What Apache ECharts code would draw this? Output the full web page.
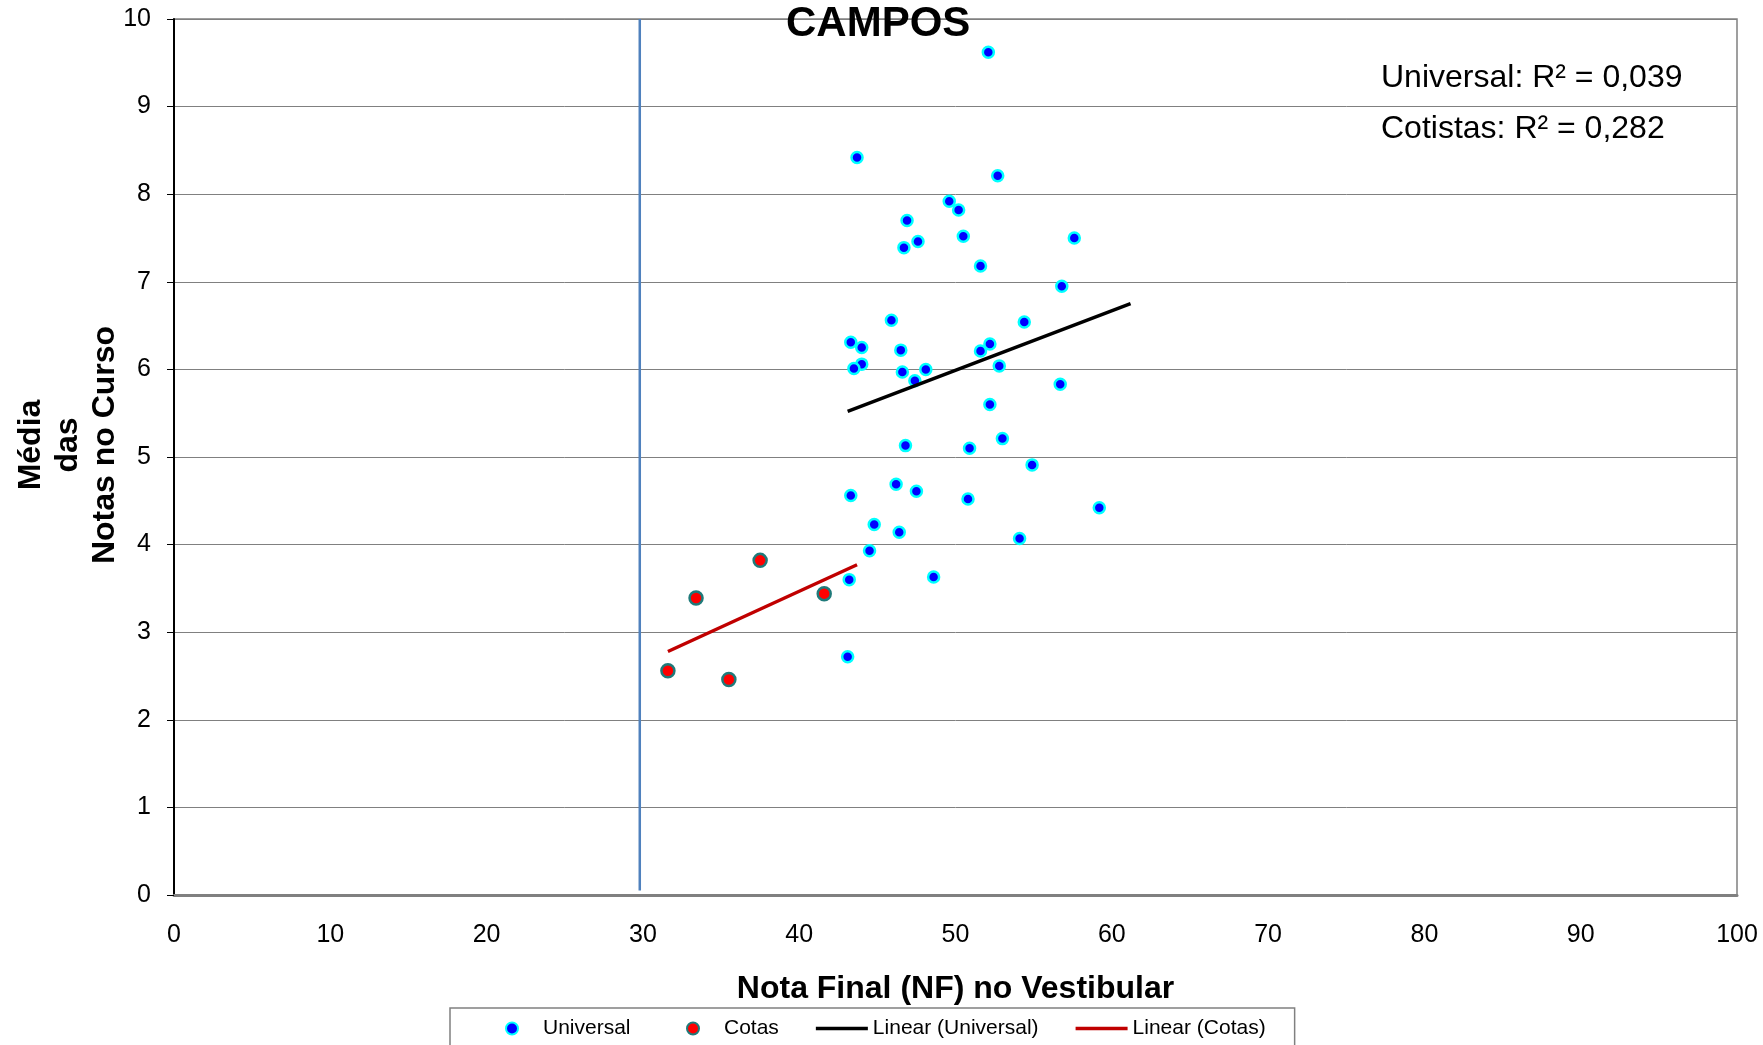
<!DOCTYPE html>
<html>
<head>
<meta charset="utf-8">
<script src="https://cdn.jsdelivr.net/npm/echarts@6/dist/echarts.min.js"></script>
<style>
html,body{margin:0;padding:0;background:#fff;}
#chart{width:1763px;height:1045px;}
</style>
</head>
<body>
<div id="chart"></div>
<script>
// ---- Data ----
const chartTitle = 'CAMPOS';
const xAxisTitle = 'Nota Final (NF) no Vestibular';
const yAxisTitle = 'Média\ndas\nNotas no Curso';
const seriesNames = ['Universal', 'Cotas', 'Linear (Universal)', 'Linear (Cotas)'];
const r2Labels = ['Universal: R² = 0,039', 'Cotistas: R² = 0,282'];

const universalX = [52.1, 43.7, 52.7, 49.6, 50.2, 46.9, 47.6, 46.7, 50.5, 57.6, 51.6, 56.8,
  45.9, 54.4, 43.3, 44.0, 46.5, 52.2, 51.6, 44.0, 43.5, 46.6, 48.1, 47.4, 52.8, 56.7, 52.2,
  46.8, 50.9, 53.0, 54.9, 46.2, 43.3, 47.5, 50.8, 59.2, 44.8, 46.4, 54.1, 44.5, 43.2, 48.6, 43.1];
const universalY = [9.62, 8.42, 8.21, 7.92, 7.82, 7.70, 7.46, 7.39, 7.52, 7.50, 7.18, 6.95,
  6.56, 6.54, 6.31, 6.25, 6.22, 6.29, 6.21, 6.06, 6.01, 5.97, 6.00, 5.87, 6.04, 5.83, 5.60,
  5.13, 5.10, 5.21, 4.91, 4.69, 4.56, 4.61, 4.52, 4.42, 4.23, 4.14, 4.07, 3.93, 3.60, 3.63, 2.72];

const cotasX = [31.6, 33.4, 35.5, 37.5, 41.6];
const cotasY = [2.56, 3.39, 2.46, 3.82, 3.44];

const universalTrendX = [43.1, 61.2];
const universalTrendY = [5.52, 6.75];
const cotasTrendX = [31.6, 43.7];
const cotasTrendY = [2.78, 3.77];

const refLineX = [29.8, 29.8];
const refLineY = [0.05, 10];

const xTicks = {min: 0, max: 100, interval: 10};
const yTicks = {min: 0, max: 10, interval: 1};

// ---- Build ----
const zip = (a, b) => a.map((v, i) => [v, b[i]]);
const FONT = "'Liberation Sans', Arial, sans-serif";
// thin horizontal bar filling the legend icon width (tiny corner dots fix the 52x12 bounding box)
const LINE_ICON = 'path://M0,0L0.01,0L0.01,0.01L0,0.01Z M0,4.25L52,4.25L52,7.75L0,7.75Z M51.99,11.99L52,11.99L52,12L51.99,12Z';

const legendCommon = {
  top: 1008, itemWidth: 52, itemHeight: 12, itemGap: 37,
  textStyle: {fontFamily: FONT, fontSize: 21, color: '#000'},
  selectedMode: false
};

const chart = echarts.init(document.getElementById('chart'), null, {renderer: 'canvas'});
chart.setOption({
  backgroundColor: '#ffffff',
  animation: false,
  textStyle: {fontFamily: FONT, color: '#000'},
  title: {
    text: chartTitle, left: 786, top: 3, padding: 0,
    textStyle: {fontFamily: FONT, fontSize: 42, fontWeight: 'bold', color: '#000'}
  },
  grid: {
    left: 174, right: 26, top: 19, bottom: 150,
    show: true, borderColor: '#808080', borderWidth: 1.5,
    outerBoundsMode: 'none', containLabel: false
  },
  legend: [
    Object.assign({}, legendCommon, {
      data: [
        {name: seriesNames[1], icon: 'circle'},
        {name: seriesNames[2], icon: LINE_ICON},
        {name: seriesNames[3], icon: LINE_ICON}
      ],
      left: 450, padding: [10, 29, 12, 236],
      borderColor: '#808080', borderWidth: 1.5
    }),
    Object.assign({}, legendCommon, {
      data: [{name: seriesNames[0], icon: 'circle'}],
      left: 505, padding: [10, 0, 12, 0]
    })
  ],
  xAxis: {
    type: 'value', min: xTicks.min, max: xTicks.max, interval: xTicks.interval,
    name: xAxisTitle, nameLocation: 'middle', nameGap: 78, nameMoveOverlap: false,
    nameTextStyle: {fontFamily: FONT, fontSize: 32, fontWeight: 'bold', color: '#000'},
    axisLine: {show: true, lineStyle: {color: '#808080', width: 3}},
    axisTick: {show: false},
    axisLabel: {fontFamily: FONT, fontSize: 25, color: '#000', margin: 28},
    splitLine: {show: false}
  },
  yAxis: {
    type: 'value', min: yTicks.min, max: yTicks.max, interval: yTicks.interval,
    name: yAxisTitle, nameLocation: 'middle', nameRotate: 90, nameGap: 50, nameMoveOverlap: false,
    nameTextStyle: {fontFamily: FONT, fontSize: 32, fontWeight: 'bold', color: '#000',
      lineHeight: 37, align: 'center', padding: [0, 0, 0, 24]},
    axisLine: {show: true, lineStyle: {color: '#000', width: 2}},
    axisTick: {show: true, inside: false, length: 7, lineStyle: {color: '#000', width: 1}},
    axisLabel: {fontFamily: FONT, fontSize: 25, color: '#000', margin: 23},
    splitLine: {show: true, lineStyle: {color: '#808080', width: 1}}
  },
  graphic: [
    {type: 'text', x: 1381, y: 78, style: {text: r2Labels[0], fontFamily: FONT, fontSize: 32, fill: '#000', verticalAlign: 'middle'}},
    {type: 'text', x: 1381, y: 129, style: {text: r2Labels[1], fontFamily: FONT, fontSize: 32, fill: '#000', verticalAlign: 'middle'}}
  ],
  series: [
    {
      name: 'refLine', type: 'line', data: zip(refLineX, refLineY),
      symbol: 'none', lineStyle: {color: '#4F81BD', width: 2.5}, silent: true, z: 1
    },
    {
      name: seriesNames[0], type: 'scatter', data: zip(universalX, universalY),
      symbol: 'circle', symbolSize: 11,
      itemStyle: {color: '#0000FF', borderColor: '#00FFFF', borderWidth: 2.5, opacity: 1}, z: 3
    },
    {
      name: seriesNames[1], type: 'scatter', data: zip(cotasX, cotasY),
      symbol: 'circle', symbolSize: 13,
      itemStyle: {color: '#FF0000', borderColor: '#1F7A7A', borderWidth: 2.5, opacity: 1}, z: 3
    },
    {
      name: seriesNames[2], type: 'line', data: zip(universalTrendX, universalTrendY),
      symbol: 'none', lineStyle: {color: '#000000', width: 3.5}, itemStyle: {color: '#000000'}, z: 4
    },
    {
      name: seriesNames[3], type: 'line', data: zip(cotasTrendX, cotasTrendY),
      symbol: 'none', lineStyle: {color: '#C00000', width: 3.5}, itemStyle: {color: '#C00000'}, z: 4
    }
  ]
});
</script>
</body>
</html>
